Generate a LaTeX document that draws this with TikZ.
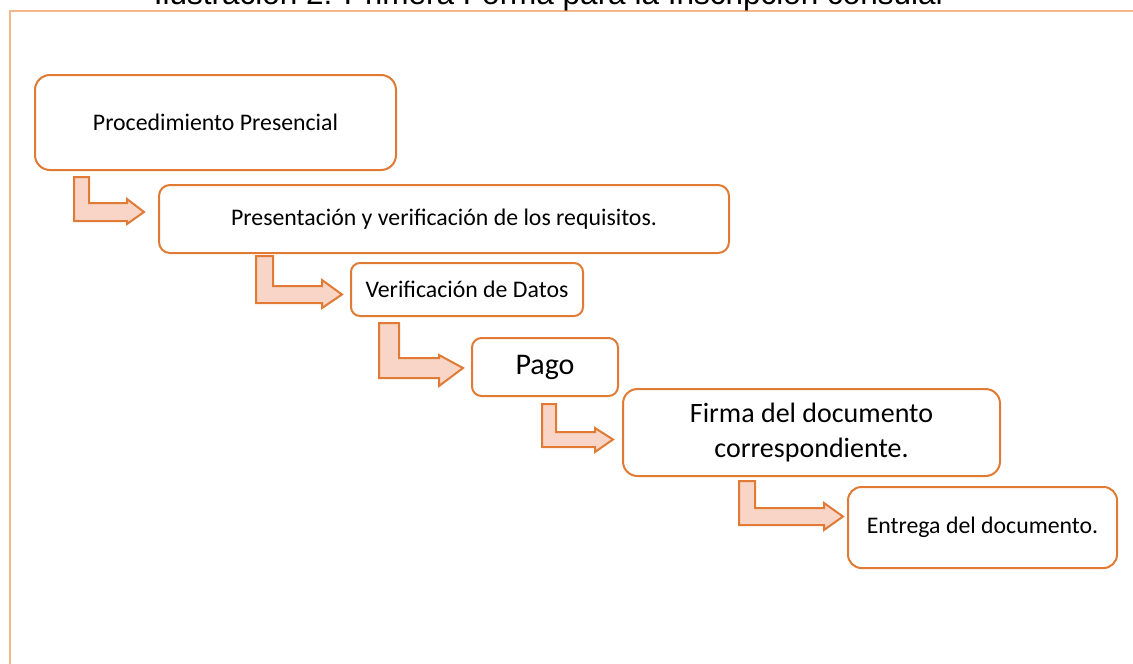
\documentclass[tikz,border=0pt]{standalone}
\usepackage{fontspec}
\setmainfont{Carlito}
\newfontfamily\titlefont{Liberation Sans}
\definecolor{boxline}{HTML}{E07A35}
\definecolor{arrowfill}{HTML}{F8D5C7}
\definecolor{framecol}{HTML}{F5B68C}
\newcommand\bentarrow[9]{%
  \path[barrow] (#1,#3) -- (#2,#3) -- (#2,#4) -- (#6,#4) -- (#6,#8)
    -- (#7,{(#4+#5)/2}) -- (#6,#9) -- (#6,#5) -- (#1,#5) -- cycle;}
\tikzset{
  stepbox/.style={draw=boxline, line width=2pt, fill=white, inner sep=0pt,
    align=center, font=\fontsize{23.8}{29}\selectfont},
  barrow/.style={draw=boxline, line width=2pt, fill=arrowfill, line join=miter},
}
\begin{document}
\begin{tikzpicture}[x=1pt,y=-1pt]
\useasboundingbox (0,0) rectangle (1133,664);
\fill[white] (0,0) rectangle (1133,664);
% frame
\draw[framecol, line width=2pt] (10,11) rectangle (1160,700);
% title (cut off at the top)
\node[anchor=base, inner sep=0pt, font=\titlefont\fontsize{31.5}{36}\selectfont] (title) at (550,4)
  {Ilustración 2: Primera Forma para la Inscripción consular};
% boxes
\node[stepbox, rounded corners=15pt, minimum width=361pt, minimum height=95pt] (b1) at (215.5,122.5) {Procedimiento Presencial};
\node[stepbox, rounded corners=11pt, minimum width=570pt, minimum height=68pt] (b2) at (444,219) {Presentación y verificación de los requisitos.};
\node[stepbox, rounded corners=9pt, minimum width=232pt, minimum height=53pt] (b3) at (467,289.5) {Verificación de Datos};
\node[stepbox, rounded corners=9.5pt, minimum width=146pt, minimum height=58pt, font=\fontsize{30}{36}\selectfont] (b4) at (545,367) {Pago};
\node[stepbox, rounded corners=14.5pt, minimum width=377pt, minimum height=87pt, font=\fontsize{28}{34.5}\selectfont] (b5) at (811.5,432.5) {Firma del documento\\correspondiente.};
\node[stepbox, rounded corners=13.5pt, minimum width=269pt, minimum height=81pt] (b6) at (982.5,527.5) {Entrega del documento.};
% bent block arrows
\bentarrow{74}{89}{177}{203}{221}{127}{144}{199}{224}
\bentarrow{256}{273}{256}{286}{303}{322}{342}{280}{308}
\bentarrow{379}{399}{323}{358}{378}{439}{463}{355}{386}
\bentarrow{542}{556}{404}{432}{447}{595}{613}{428}{452}
\bentarrow{739}{755}{481}{508}{525}{824}{843}{503}{530}
\end{tikzpicture}
\end{document}
